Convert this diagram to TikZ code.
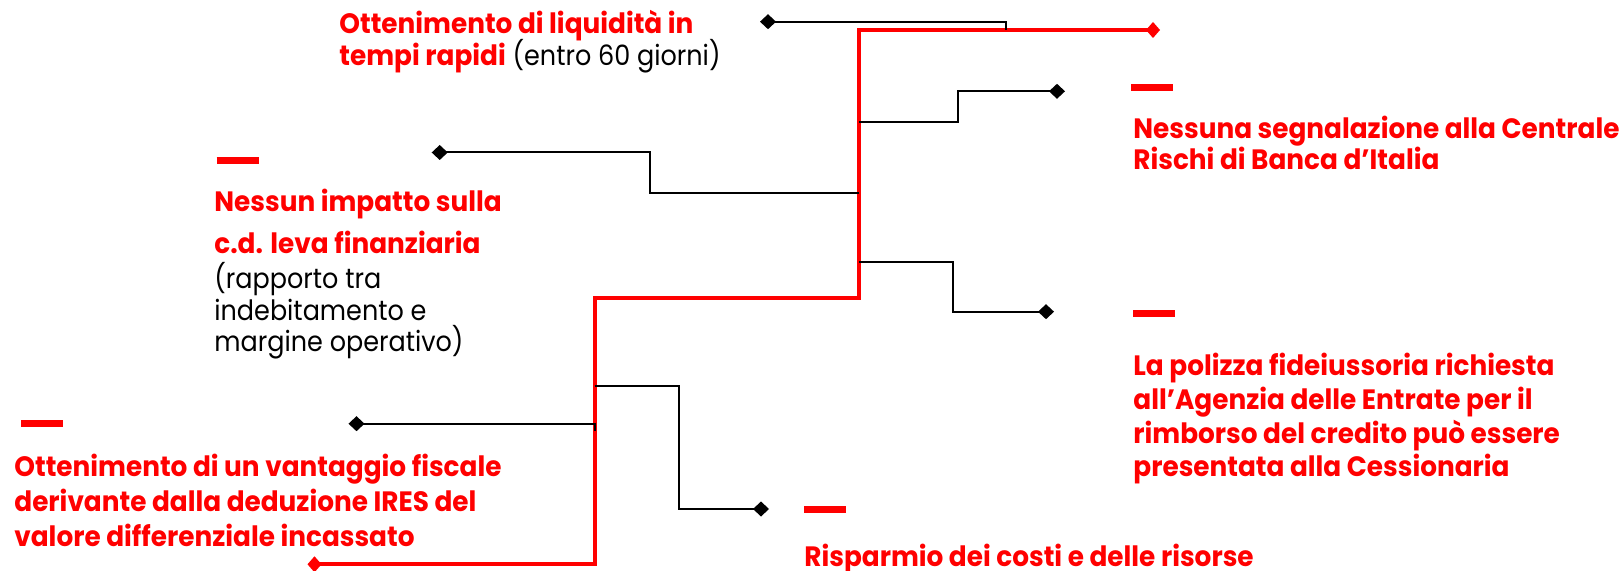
\documentclass[tikz,border=0pt]{standalone}
\usepackage{fontspec}
\setmainfont{Poppins}[FakeStretch=0.91]
\newfontfamily\headfont{Poppins}[FakeStretch=0.94]
\usetikzlibrary{arrows.meta}

\definecolor{hlred}{RGB}{255,0,0}

\tikzset{
  trunk/.style={hlred, line width=2pt},
  branch/.style={black, line width=1pt},
  diamondend/.style={-{Diamond[length=8pt,width=7.5pt]}},
  bar/.style={hlred, line width=3.5pt},
  headtext/.style={hlred, font=\headfont\bfseries\fontsize{14}{16}\selectfont, inner sep=0pt, anchor=base west},
  notetext/.style={black, font=\fontsize{14}{16}\selectfont, inner sep=0pt, anchor=base west}
}

\begin{document}
\begin{tikzpicture}[x=0.5pt, y=-0.5pt]
  \useasboundingbox (0,0) rectangle (1622,571);

  % Red trunk
  \coordinate (trunkend) at (307.5,564.3);
  \coordinate (lowbend) at (594.6,298);
  \coordinate (topbend) at (859,30);
  \coordinate (trunktip) at (1160,30);
  \draw[trunk, {Diamond[length=7pt,width=8pt]}-{Diamond[length=7pt,width=8pt]}]
    (trunkend) -| (lowbend) -| (topbend) -- (trunktip);

  % Branches
  \coordinate (liqjoin) at (1006,30);
  \coordinate (liqtip) at (760,21.7);
  \draw[branch, diamondend] (liqjoin) |- (liqtip);

  \coordinate (segjoin) at (859,122.3);
  \coordinate (segtip) at (1065,91.3);
  \draw[branch, diamondend] (segjoin) -- ++(99,0) |- (segtip);

  \coordinate (levjoin) at (859,193.3);
  \coordinate (levtip) at (431.7,152.5);
  \draw[branch, diamondend] (levjoin) -- ++(-209,0) |- (levtip);

  \coordinate (poljoin) at (859,262);
  \coordinate (poltip) at (1054,311.7);
  \draw[branch, diamondend] (poljoin) -- ++(93.6,0) |- (poltip);

  \coordinate (fisjoin) at (594.6,430.7);
  \coordinate (fistip) at (348.5,423.7);
  \draw[branch, diamondend] (fisjoin) |- (fistip);

  \coordinate (risjoin) at (594.6,386);
  \coordinate (ristip) at (769,509);
  \draw[branch, diamondend] (risjoin) -- ++(84,0) |- (ristip);

  % Red bars
  \draw[bar] (1131,88) coordinate (segbar) -- ++(42,0);
  \draw[bar] (216.5,161) coordinate (levbar) -- ++(42,0);
  \draw[bar] (1133,314) coordinate (polbar) -- ++(42,0);
  \draw[bar] (21.4,423.3) coordinate (fisbar) -- ++(42,0);
  \draw[bar] (804,509) coordinate (risbar) -- ++(42,0);

  % Texts
  \node[headtext] (liq1) at (339,33.3) {Ottenimento di liquidità in};
  \node[notetext] (liq2) at (339,66) {{\headfont\bfseries\color{hlred}tempi rapidi} (entro 60 giorni)};

  \node[headtext] (seg1) at (1133,138.3) {Nessuna segnalazione alla Centrale};
  \node[headtext] (seg2) at (1133,170) {Rischi di Banca d’Italia};

  \node[headtext] (lev1) at (214,211.7) {Nessun impatto sulla};
  \node[headtext] (lev2) at (214,254) {c.d. leva finanziaria};
  \node[notetext] (lev3) at (214,288.3) {(rapporto tra};
  \node[notetext] (lev4) at (214,320.7) {indebitamento e};
  \node[notetext] (lev5) at (214,351.7) {margine operativo)};

  \node[headtext] (pol1) at (1133,375.7) {La polizza fideiussoria richiesta};
  \node[headtext] (pol2) at (1133,410) {all’Agenzia delle Entrate per il};
  \node[headtext] (pol3) at (1133,443.3) {rimborso del credito può essere};
  \node[headtext] (pol4) at (1133,476.7) {presentata alla Cessionaria};

  \node[headtext] (fis1) at (14,476.7) {Ottenimento di un vantaggio fiscale};
  \node[headtext] (fis2) at (14,511) {derivante dalla deduzione IRES del};
  \node[headtext] (fis3) at (14,546) {valore differenziale incassato};

  \node[headtext] (ris1) at (804,566) {Risparmio dei costi e delle risorse};
\end{tikzpicture}
\end{document}
